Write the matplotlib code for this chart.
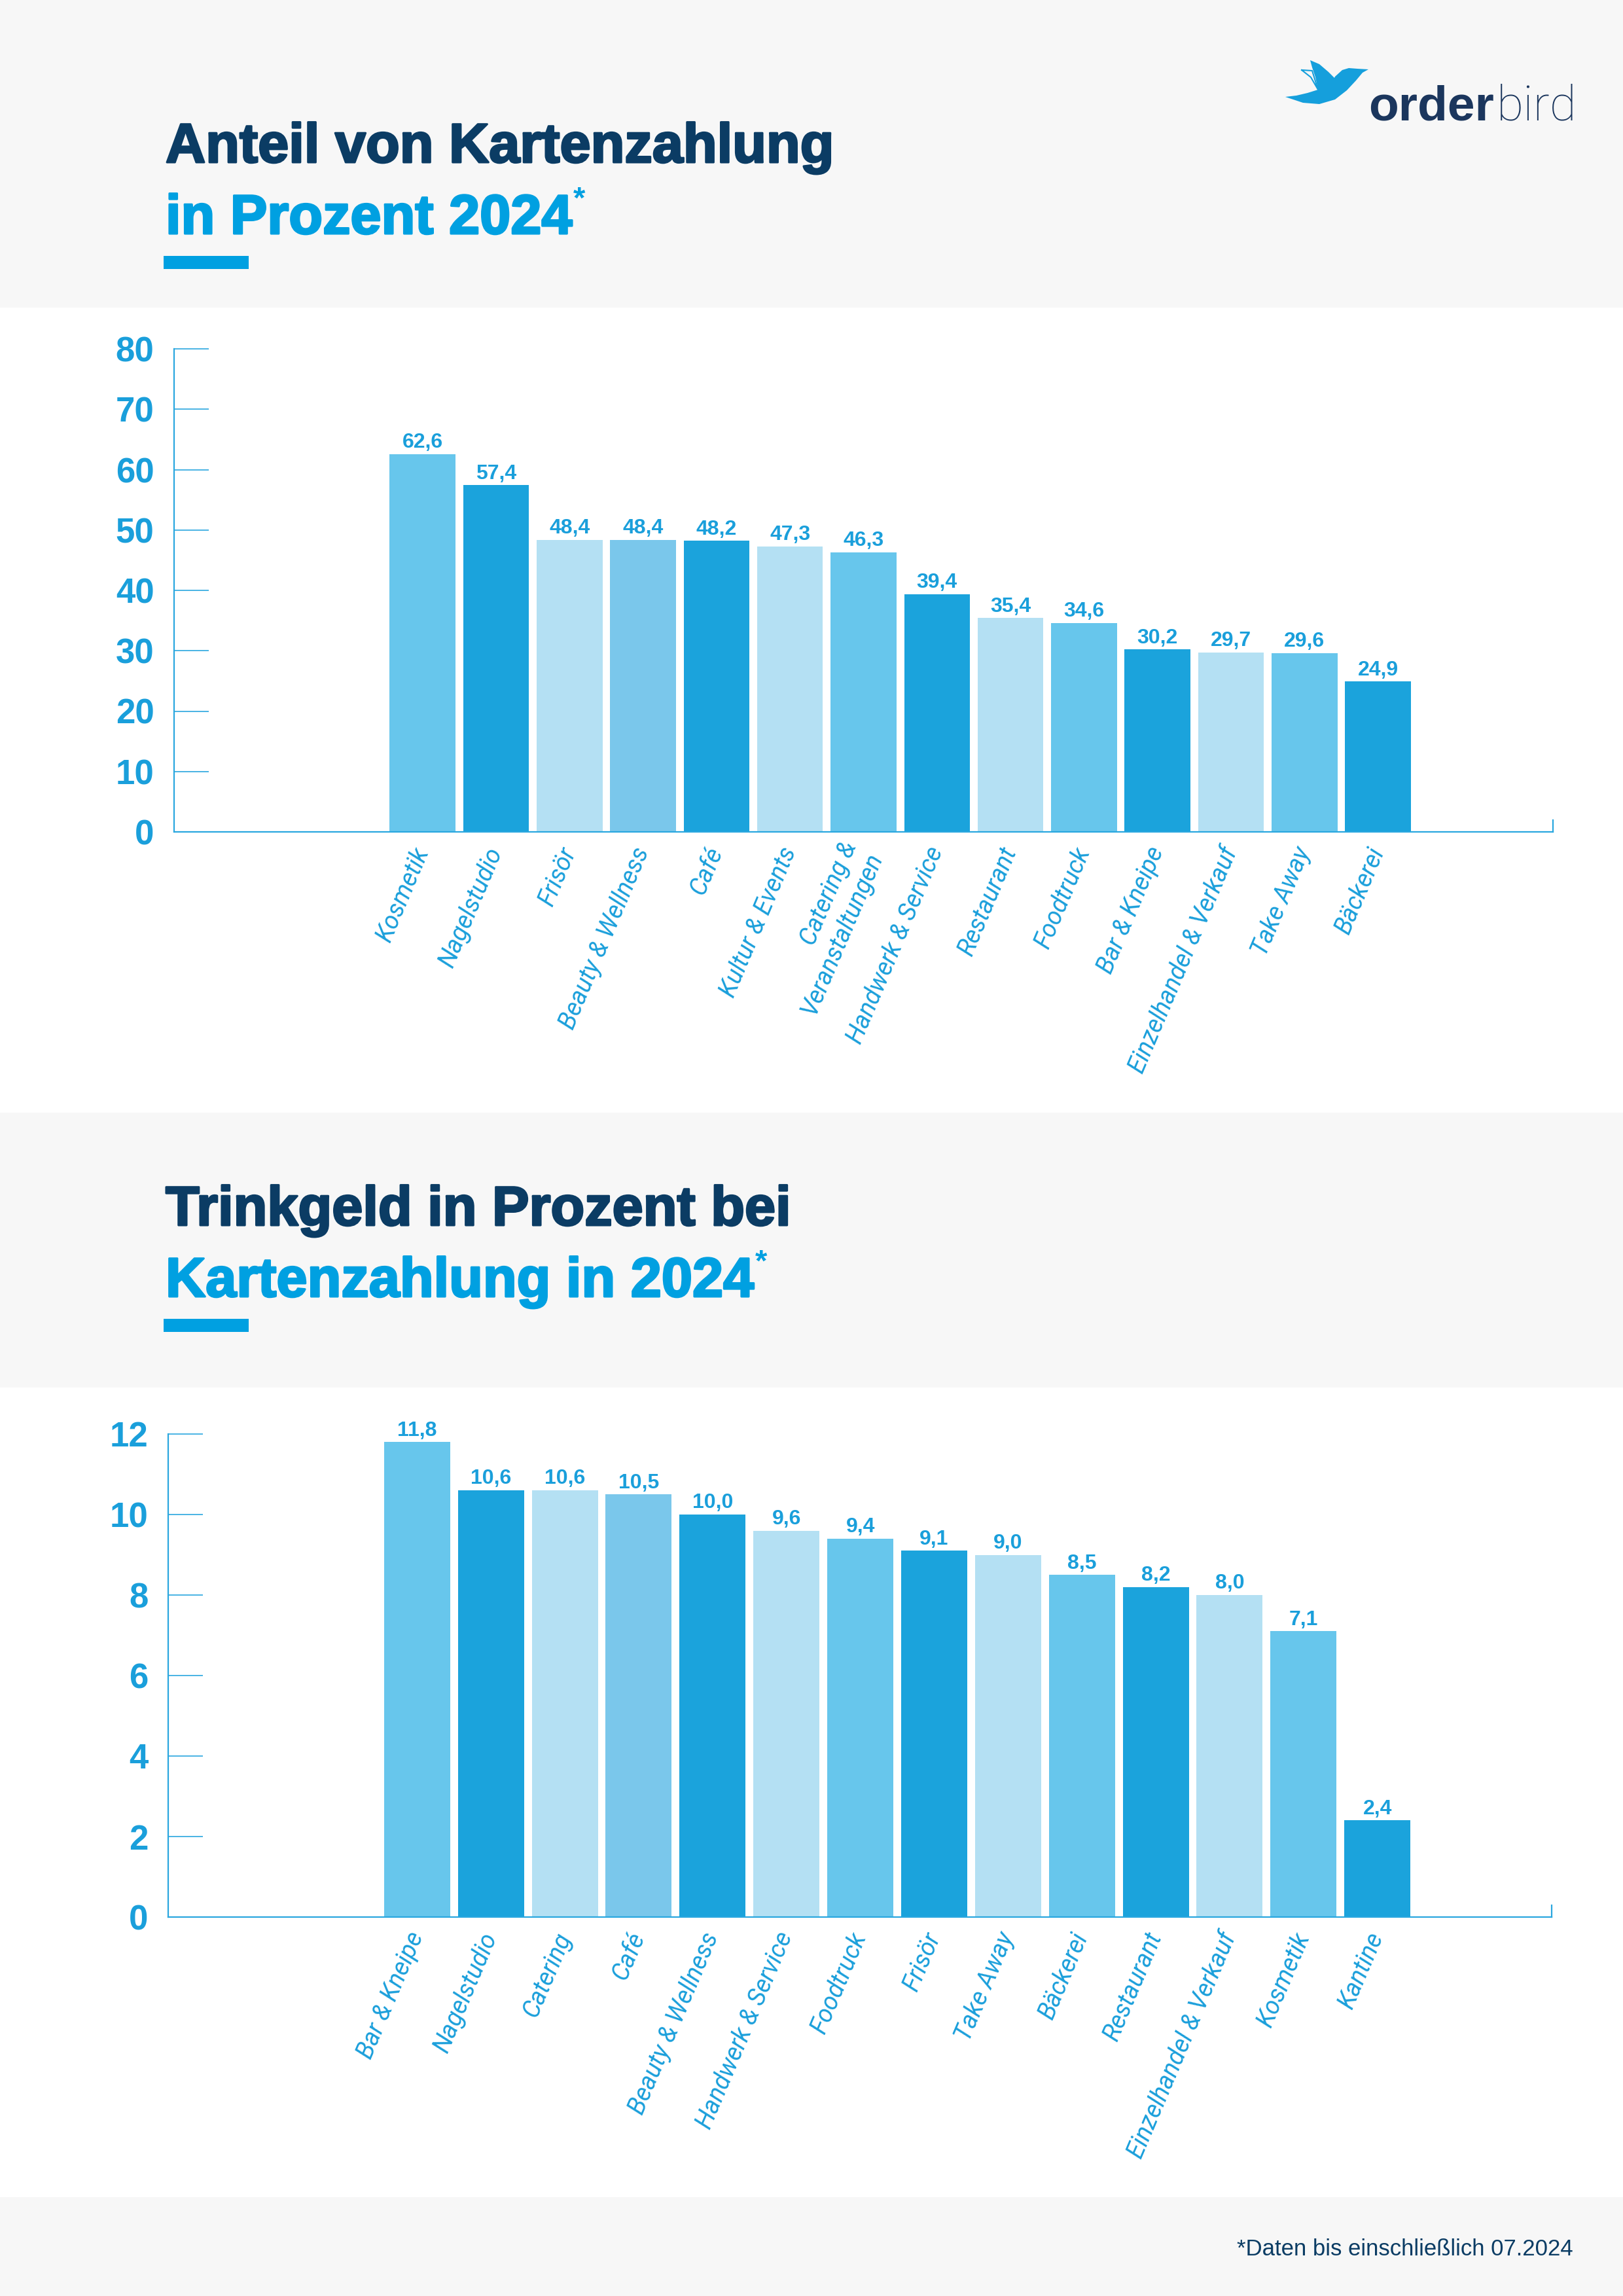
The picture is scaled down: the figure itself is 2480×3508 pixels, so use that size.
import matplotlib
matplotlib.use("Agg")
import matplotlib.pyplot as plt
import matplotlib.patheffects as pe
from matplotlib.patches import Rectangle, Polygon

plt.rcParams['font.family'] = ['Liberation Sans', 'DejaVu Sans']

# --- data -------------------------------------------------------------
share_categories = ["Kosmetik", "Nagelstudio", "Frisör", "Beauty & Wellness", "Café",
                    "Kultur & Events", "Catering &\nVeranstaltungen", "Handwerk & Service",
                    "Restaurant", "Foodtruck", "Bar & Kneipe", "Einzelhandel & Verkauf",
                    "Take Away", "Bäckerei"]
share_values = [62.6, 57.4, 48.4, 48.4, 48.2, 47.3, 46.3, 39.4, 35.4, 34.6, 30.2, 29.7, 29.6, 24.9]
share_ticks = [0, 10, 20, 30, 40, 50, 60, 70, 80]

tip_categories = ["Bar & Kneipe", "Nagelstudio", "Catering", "Café", "Beauty & Wellness",
                  "Handwerk & Service", "Foodtruck", "Frisör", "Take Away", "Bäckerei",
                  "Restaurant", "Einzelhandel & Verkauf", "Kosmetik", "Kantine"]
tip_values = [11.8, 10.6, 10.6, 10.5, 10.0, 9.6, 9.4, 9.1, 9.0, 8.5, 8.2, 8.0, 7.1, 2.4]
tip_ticks = [0, 2, 4, 6, 8, 10, 12]

# --- style ------------------------------------------------------------
NAVY = '#0b3c64'
BLUE = '#00a0e1'
AXIS = '#2aa7df'
LABEL = '#1a9fdb'
GREY = '#f7f7f7'
MID, DARK, LIGHT, MID2 = '#67c6ec', '#1ba3dc', '#b4e0f3', '#7ac7eb'
bar_colors = [MID, DARK, LIGHT, MID2, DARK, LIGHT, MID, DARK, LIGHT, MID, DARK, LIGHT, MID, DARK]

W, H = 2480, 3508
fig = plt.figure(figsize=(W / 100, H / 100), dpi=100)
fig.patch.set_facecolor('white')

# full-page layer in pixel units for bands, titles and logo
bg = fig.add_axes([0, 0, 1, 1], zorder=0)
bg.set_xlim(0, W)
bg.set_ylim(H, 0)
bg.axis('off')

for y0, y1 in [(0, 470), (1700, 2120), (3357, H)]:
    bg.add_patch(Rectangle((0, y0), W, y1 - y0, color=GREY, lw=0))


def heavy(color, w=2.2):
    return [pe.withStroke(linewidth=w, foreground=color)]


def title_block(top, line1, line2):
    bg.text(253, top + 248, line1, fontsize=61, fontweight='bold', color=NAVY,
            va='baseline', path_effects=heavy(NAVY))
    t = bg.text(253, top + 357, line2, fontsize=61, fontweight='bold', color=BLUE,
                va='baseline', path_effects=heavy(BLUE))
    r = fig.canvas.get_renderer()
    bb = t.get_window_extent(r).transformed(bg.transData.inverted())
    bg.text(bb.x1 + 2, top + 284, '*', fontsize=34, fontweight='bold', color=BLUE, va='top')
    bg.add_patch(Rectangle((250, top + 391), 130, 20, color=BLUE, lw=0))


title_block(0, "Anteil von Kartenzahlung", "in Prozent 2024")
title_block(1624, "Trinkgeld in Prozent bei", "Kartenzahlung in 2024")

# logo
bird = [(1964, 148), (1991, 157), (2016, 159), (2040, 152), (2058, 138), (2072, 123),
        (2082, 111), (2091, 106), (2074, 105), (2061, 104), (2051, 107), (2040, 117),
        (2039, 119), (2030, 110), (2016, 98), (2002, 92), (2005, 103), (2010, 118),
        (2014, 137), (1998, 142), (1981, 146)]
bg.add_patch(Polygon(bird, closed=True, color='#159fdc', lw=0))
bg.plot([1989, 2005, 2014, 2003, 1989], [107, 108, 137, 118, 107], color='#159fdc', lw=1.5)
bg.text(2283, 183, "order", fontsize=54, fontweight='bold', color='#1b365d', ha='right', va='baseline')
bg.text(2287, 183, "bird", fontsize=54, fontweight='light', color='#1b365d', ha='left',
        va='baseline', family=['Roboto', 'Liberation Sans'])

# footnote
bg.text(2404, 3446, "*Daten bis einschließlich 07.2024", fontsize=25, color=NAVY,
        ha='right', va='baseline')


def bar_chart(rect, categories, values, ticks, xlim):
    ax = fig.add_axes(rect, zorder=1)
    ax.set_facecolor('none')
    x = list(range(len(values)))
    ax.bar(x, values, width=0.895, color=bar_colors, lw=0, zorder=2)
    for xi, v in zip(x, values):
        ax.annotate(f"{v:.1f}".replace('.', ','), (xi, v), xytext=(0, 7),
                    textcoords='offset points', ha='center', va='baseline',
                    fontsize=23, fontweight='bold', color=LABEL)
    ax.set_xlim(*xlim)
    ax.set_ylim(ticks[0], ticks[-1])
    for s in ['top', 'right']:
        ax.spines[s].set_visible(False)
    for s in ['left', 'bottom']:
        ax.spines[s].set_color(AXIS)
        ax.spines[s].set_linewidth(1.6)
    # small end mark on the right of the base line
    ax.plot([xlim[1], xlim[1]], [0, ticks[-1] * 0.024], color=AXIS, lw=1.6, clip_on=False)
    ax.set_yticks(ticks)
    ax.set_yticklabels([str(t) for t in ticks])
    ax.tick_params(axis='y', direction='in', length=38, width=1.2, color=AXIS, pad=22,
                   labelsize=38, labelcolor=LABEL)
    for lab in ax.get_yticklabels():
        lab.set_fontweight('bold')
    ax.set_xticks(x)
    ax.set_xticklabels(categories, rotation=67, ha='right', va='center',
                       rotation_mode='anchor', fontsize=27, style='italic',
                       color=LABEL, multialignment='right')
    for lab in ax.get_xticklabels():
        lab.set_family(['Roboto', 'Liberation Sans'])
    ax.tick_params(axis='x', length=0, pad=18)
    return ax


bar_chart([266 / W, 1 - 1271 / H, (2373 - 266) / W, (1271 - 533) / H],
          share_categories, share_values, share_ticks, (-3.38, 15.38))
bar_chart([257 / W, 1 - 2929 / H, (2371 - 257) / W, (2929 - 2191) / H],
          tip_categories, tip_values, tip_ticks, (-3.37, 15.36))

fig.savefig("out.png", dpi=100, facecolor='white')
